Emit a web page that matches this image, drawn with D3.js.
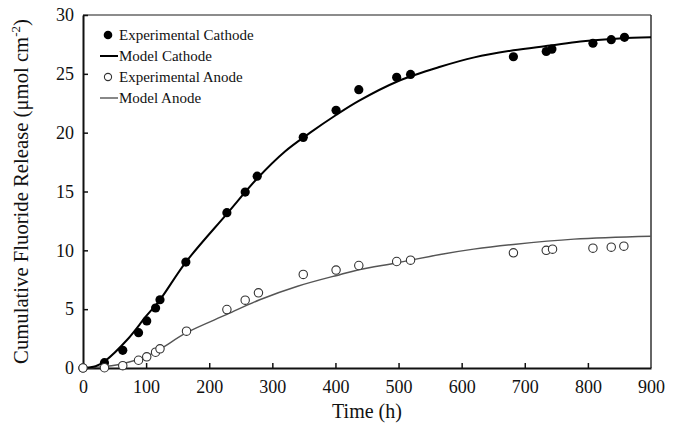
<!DOCTYPE html>
<html>
<head>
<meta charset="utf-8">
<script src="https://cdn.jsdelivr.net/npm/d3@7"></script>
<style>
body { margin: 0; background: #fff; }
svg text { font-family: "Liberation Serif", "Times New Roman", serif; fill: #111; }
</style>
</head>
<body>
<div id="plot"></div>
<script>
// experimental points (time h, µmol cm-2)
var cathodeTime = [0, 34, 63, 88, 101, 115, 122, 163, 228, 257, 276, 349, 401, 437, 497, 519, 682, 734, 743, 808, 837, 858];
var cathodeVal  = [0, 0.45, 1.5, 3.0, 4.0, 5.1, 5.8, 9.0, 13.2, 14.95, 16.3, 19.6, 21.9, 23.65, 24.7, 24.95, 26.45, 26.9, 27.1, 27.6, 27.9, 28.1];

var anodeTime = [0, 34, 63, 88, 101, 115, 122, 164, 228, 257, 278, 349, 401, 437, 497, 519, 682, 734, 744, 808, 837, 857];
var anodeVal  = [0, 0.02, 0.2, 0.66, 0.95, 1.34, 1.63, 3.13, 4.97, 5.76, 6.39, 7.95, 8.32, 8.71, 9.05, 9.16, 9.79, 10.0, 10.1, 10.18, 10.27, 10.35];

// model curves
var modelCathodeTime = [0, 20, 35, 70, 100, 122, 163, 228, 276, 320, 360, 401, 437, 498, 566, 620, 682, 740, 788, 850, 900];
var modelCathodeVal  = [0, 0.15, 0.6, 2.4, 4.4, 5.8, 9.0, 13.1, 16.1, 18.4, 20.0, 21.5, 22.7, 24.35, 25.6, 26.4, 27.0, 27.4, 27.75, 28.0, 28.1];

var modelAnodeTime = [0, 20, 63, 100, 122, 164, 228, 280, 340, 408, 437, 498, 566, 619, 682, 778, 900];
var modelAnodeVal  = [0, 0.05, 0.36, 1.0, 1.6, 3.0, 4.55, 5.8, 6.95, 7.95, 8.35, 8.95, 9.65, 10.1, 10.5, 10.95, 11.2];

var xTicks = [0, 100, 200, 300, 400, 500, 600, 700, 800, 900];
var yTicks = [0, 5, 10, 15, 20, 25, 30];

var legendLabels = ["Experimental Cathode", "Model Cathode", "Experimental Anode", "Model Anode"];

function zip(t, v) {
    return t.map(function(d, i) { return [d, v[i]]; });
}

var W = 680, H = 425;
var margin = {top: 15, right: 29, bottom: 57, left: 83};
var width = W - margin.left - margin.right,
    height = H - margin.top - margin.bottom;

var svg = d3.select("#plot")
    .append("svg")
    .attr("width", W)
    .attr("height", H);

var g = svg.append("g")
    .attr("transform", "translate(" + margin.left + "," + margin.top + ")");

var x = d3.scaleLinear().domain([0, 900]).range([0, width]);
var y = d3.scaleLinear().domain([0, 30]).range([height, 0]);

// frame: top and right lighter
g.append("line").attr("x1", 0).attr("x2", width).attr("y1", 0).attr("y2", 0)
    .style("stroke", "#666").style("stroke-width", 1.5);
g.append("line").attr("x1", width).attr("x2", width).attr("y1", 0).attr("y2", height)
    .style("stroke", "#333").style("stroke-width", 1.5);

// axes with inward ticks
var xAxis = g.append("g")
    .attr("transform", "translate(0," + height + ")")
    .call(d3.axisBottom(x).tickValues(xTicks).tickSizeInner(-5).tickSizeOuter(0).tickPadding(12));
var yAxis = g.append("g")
    .call(d3.axisLeft(y).tickValues(yTicks).tickSizeInner(-5).tickSizeOuter(0).tickPadding(9));

[xAxis, yAxis].forEach(function(a) {
    a.attr("font-family", null);
    a.select(".domain").style("stroke", "#111").style("stroke-width", 2);
    a.selectAll(".tick line").style("stroke", "#111").style("stroke-width", 1.5);
    a.selectAll(".tick text")
        .style("font-size", "18px")
        .style("font-family", "Liberation Serif, serif")
        .style("fill", "#111");
});
// hide the tick at origin overlapping other axis
xAxis.selectAll(".tick line").filter(function(d) { return d == 0 || d == 900; }).remove();
yAxis.selectAll(".tick line").filter(function(d) { return d == 0; }).remove();

var line = d3.line()
    .x(function(d) { return x(d[0]); })
    .y(function(d) { return y(d[1]); })
    .curve(d3.curveCatmullRom.alpha(0.5));

g.append("path")
    .datum(zip(modelAnodeTime, modelAnodeVal))
    .attr("d", line)
    .style("fill", "none")
    .style("stroke", "#555")
    .style("stroke-width", 1.4);

g.append("path")
    .datum(zip(modelCathodeTime, modelCathodeVal))
    .attr("d", line)
    .style("fill", "none")
    .style("stroke", "#000")
    .style("stroke-width", 2);

g.selectAll(".cat")
    .data(zip(cathodeTime, cathodeVal))
    .enter().append("circle")
    .attr("class", "cat")
    .attr("cx", function(d) { return x(d[0]); })
    .attr("cy", function(d) { return y(d[1]); })
    .attr("r", 4.6)
    .style("fill", "#000");

g.selectAll(".ano")
    .data(zip(anodeTime, anodeVal))
    .enter().append("circle")
    .attr("class", "ano")
    .attr("cx", function(d) { return x(d[0]); })
    .attr("cy", function(d) { return y(d[1]); })
    .attr("r", 4.2)
    .style("fill", "#fff")
    .style("stroke", "#333")
    .style("stroke-width", 1.1);

// legend
var legend = g.append("g").attr("transform", "translate(25,20)");
legendLabels.forEach(function(lab, i) {
    var row = legend.append("g").attr("transform", "translate(0," + (i * 21) + ")");
    if (i == 0) {
        row.append("circle").attr("cx", 0).attr("cy", 0).attr("r", 4.3).style("fill", "#000");
    } else if (i == 2) {
        row.append("circle").attr("cx", 0).attr("cy", 0).attr("r", 3.6)
            .style("fill", "#fff").style("stroke", "#333").style("stroke-width", 1.1);
    } else {
        row.append("line").attr("x1", -8).attr("x2", 10).attr("y1", 0).attr("y2", 0)
            .style("stroke", i == 1 ? "#000" : "#555")
            .style("stroke-width", i == 1 ? 2 : 1.4);
    }
    row.append("text")
        .attr("x", 11)
        .attr("y", 5)
        .style("font-size", "15px")
        .text(lab);
});

// axis titles
svg.append("text")
    .attr("x", margin.left + x(450))
    .attr("y", 418)
    .style("text-anchor", "middle")
    .style("font-size", "20px")
    .text("Time (h)");

var yt = svg.append("text")
    .attr("transform", "translate(28," + (margin.top + height / 2) + ") rotate(-90)")
    .style("text-anchor", "middle")
    .style("font-size", "20.7px");
yt.append("tspan").text("Cumulative Fluoride Release (\u03bcmol cm");
yt.append("tspan").attr("dy", -8).style("font-size", "13px").text("-2");
yt.append("tspan").attr("dy", 8).text(")");
</script>
</body>
</html>
